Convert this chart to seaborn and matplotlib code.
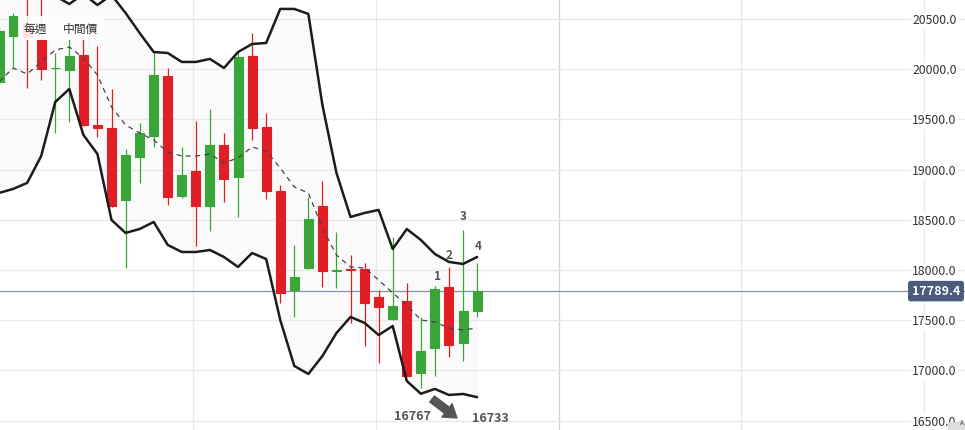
import numpy as np
import pandas as pd
import matplotlib
matplotlib.use('Agg')
import matplotlib.pyplot as plt
import seaborn as sns
from matplotlib.patches import Rectangle

# weekly candles (oldest -> newest)
opens = [19873, 20331, 20460, 20291, 20008, 19992, 20141, 19444, 19414, 18697,
         19125, 19335, 19932, 18737, 18986, 18637, 19245, 18926, 20131, 19424,
         18787, 17801, 18020, 18637, 17985, 18005, 18010, 17731, 17512, 17691,
         16974, 17223, 17831, 17273, 17592]
closes = [20380, 20530, 20321, 20002, 20016, 20131, 19444, 19414, 18637, 19145,
          19365, 19942, 18727, 18946, 18637, 19245, 18906, 20122, 19414, 18787,
          17771, 17930, 18508, 17990, 17995, 17995, 17671, 17631, 17641, 16944,
          17193, 17811, 17253, 17592, 17789.4]
highs = [20420, 20560, 20720, 20760, 20161, 20300, 20300, 20231, 19803, 19205,
         19464, 20171, 20012, 19225, 19484, 19604, 19365, 20171, 20361, 19564,
         18847, 18249, 18727, 18886, 18378, 18149, 18070, 17801, 18329, 17870,
         17532, 17841, 18030, 18398, 18070]
lows = [19840, 20022, 19813, 19892, 19365, 19474, 19430, 19325, 18630, 18020,
        18867, 19225, 18647, 18717, 18239, 18388, 18677, 18528, 19295, 18707,
        17671, 17532, 18010, 17831, 17821, 17472, 17243, 17074, 17505, 16940,
        16825, 16944, 17133, 17094, 17532]

# bollinger bands
upper = [20978, 21217, 21038, 21008, 20729, 20649, 20749, 20639, 20739, 20560,
         20361, 20171, 20161, 20072, 20072, 20102, 20012, 20171, 20251, 20261,
         20600, 20600, 20550, 19643, 18966, 18528, 18568, 18598, 18209, 18408,
         18299, 18159, 18080, 18060, 18129]
middle = [19873, 20012, 19952, 20072, 20191, 20221, 20112, 19942, 19624, 19444,
          19365, 19295, 19175, 19135, 19135, 19155, 19066, 19116, 19225, 19185,
          19016, 18827, 18767, 18418, 18149, 18030, 18020, 17900, 17771, 17651,
          17502, 17482, 17422, 17402, 17422]
lower = [18767, 18807, 18867, 19135, 19673, 19803, 19345, 19155, 18498, 18369,
         18408, 18478, 18249, 18179, 18179, 18199, 18129, 18030, 18169, 18109,
         17502, 17044, 16964, 17143, 17372, 17532, 17472, 17352, 17442, 16894,
         16767, 16815, 16755, 16765, 16733]

last_price = 17789.4
ytick_vals = [16500, 17000, 17500, 18000, 18500, 19000, 19500, 20000, 20500]
quarter_lines = [13.8, 26.8, 39.8, 52.8, 65.8]

wave_labels = ['1', '2', '3', '4']
wave_x = [31.15, 32.0, 33.0, 34.07]
wave_y = [17930, 18149, 18528, 18229]

sns.set_theme(style='white')
plt.rcParams['font.family'] = ['Noto Sans CJK TC', 'DejaVu Sans']

RED = '#e01e25'
GREEN = '#3aa63a'

df = pd.DataFrame({'open': opens, 'close': closes, 'high': highs, 'low': lows,
                   'upper': upper, 'middle': middle, 'lower': lower})
df['week'] = np.arange(len(df))
df['color'] = np.where(df['close'] >= df['open'], GREEN, RED)

fig = plt.figure(figsize=(9.65, 4.30), dpi=100)
ax = fig.add_axes([0, 0, 1, 1])
ax.set_xlim(0.07, 68.7)
ax.set_ylim(16406, 20689)

# band fill
ax.fill_between(df['week'], df['lower'], df['upper'], color='#fafafa', zorder=0)

# candles
ax.vlines(df['week'], df['low'], df['high'], colors=df['color'], lw=0.9, zorder=2)
body_lo = np.minimum(df['open'], df['close'])
body_h = np.abs(df['close'] - df['open'])
ax.bar(df['week'], body_h, bottom=body_lo, width=0.64, color=df['color'],
       edgecolor=df['color'], linewidth=0.8, zorder=3)

# bands
sns.lineplot(x=df['week'], y=df['upper'], ax=ax, color='#1c1c1c', lw=1.8, zorder=4)
sns.lineplot(x=df['week'], y=df['lower'], ax=ax, color='#1c1c1c', lw=1.8, zorder=4)
sns.lineplot(x=df['week'], y=df['middle'], ax=ax, color='#444444', lw=0.9,
             dashes=False, zorder=4)
ax.lines[-1].set_linestyle((0, (4, 3.5)))

# last price line + tag
ax.axhline(last_price, color='#8796a5', lw=0.9, zorder=1)
ax.text(0.995, last_price, f'{last_price:.1f}', transform=ax.get_yaxis_transform(),
        ha='right', va='center', color='white', fontsize=9, fontweight='bold',
        bbox=dict(boxstyle='round,pad=0.3,rounding_size=0.2', fc='#4a5b7b', ec='none'),
        zorder=6)

# grid
ax.set_yticks(ytick_vals)
ax.set_yticklabels([f'{v:.1f}' for v in ytick_vals])
ax.set_xticks(quarter_lines)
ax.set_xticklabels([])
ax.grid(True, color='#e8e8e8', lw=0.9)
ax.xaxis.get_gridlines()[2].set_color('#d2d2d2')
ax.set_axisbelow(True)
ax.yaxis.tick_right()
ax.tick_params(axis='y', length=0, pad=-6, labelsize=8.8, labelcolor='#333333')
ax.tick_params(axis='x', length=0)
for lbl in ax.get_yticklabels():
    lbl.set_horizontalalignment('right')
    lbl.set_bbox(dict(fc='white', ec='none', pad=1))
for s in ax.spines.values():
    s.set_visible(False)
ax.set_xlabel('')
ax.set_ylabel('')

# legend-like tag
ax.add_patch(Rectangle((0.0187, 0.907), 0.089, 0.056, transform=ax.transAxes,
                       fc='white', ec='none', alpha=0.88, zorder=5))
ax.text(0.0368, 0.931, '每週', transform=ax.transAxes, ha='center', va='center',
        fontsize=8.5, color='#333333', zorder=6)
ax.text(0.0834, 0.931, '中間價', transform=ax.transAxes, ha='center', va='center',
        fontsize=8.5, color='#333333', zorder=6)

# wave count
for t, x, y in zip(wave_labels, wave_x, wave_y):
    ax.text(x, y, t, ha='center', va='center', fontsize=8.5, fontweight='bold',
            color='#555555', zorder=6)

# lower band target
ax.annotate('', xy=(32.57, 16526), xytext=(30.8, 16715),
            arrowprops=dict(arrowstyle='simple,head_width=1.2,head_length=0.9,tail_width=0.55',
                            color='#555555', shrinkA=0, shrinkB=0, mutation_scale=10),
            zorder=6)
ax.text(29.4, 16536, f'{lower[30]}', ha='center', va='center', fontsize=9,
        fontweight='bold', color='#555555', zorder=6)
ax.text(34.92, 16516, f'{lower[34]}', ha='center', va='center', fontsize=9,
        fontweight='bold', color='#555555', zorder=6)

# small corner button
fig.add_artist(Rectangle((948 / 965, 0), 17 / 965, 8 / 430, transform=fig.transFigure,
                         fc='#dedede', ec='#cfcfcf', lw=0.5))
fig.text(962 / 965, 3 / 430, 'A', fontsize=4.5, color='#444444', ha='center', va='bottom')

fig.savefig('out.png', dpi=100)
